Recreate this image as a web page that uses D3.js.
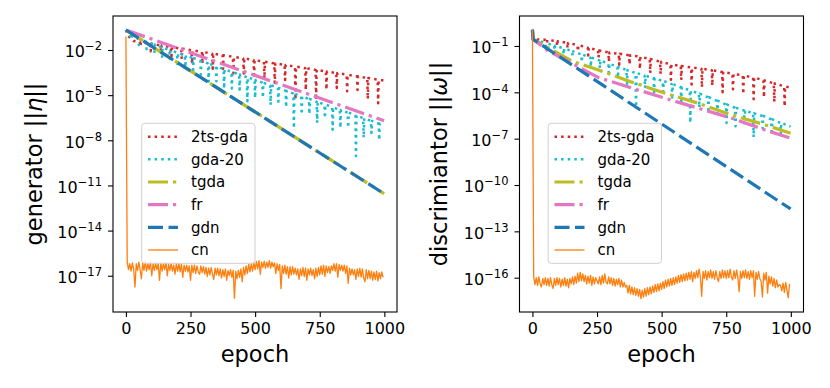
<!DOCTYPE html>
<html><head><meta charset="utf-8">
<script src="https://cdn.jsdelivr.net/npm/d3@7"></script>
<style>body{margin:0;background:#fff} text{font-family:"DejaVu Sans",sans-serif}</style>
</head><body>
<script>
// values are log10 of the norm
var xTicks = [0, 250, 500, 750, 1000];
var labels = ["2ts-gda", "gda-20", "tgda", "fr", "gdn", "cn"];

// ---- generator panel ----
var genTsHead = [[0,-0.67],[8,-1.05],[30,-1.40]];
var genTsCycles = [ // [epoch, top, dip]
  [56,-1.48,-1.78],[96,-1.59,-2.09],[136,-1.70,-2.30],[176,-1.81,-2.61],[216,-1.91,-2.61],
  [256,-2.02,-2.92],[296,-2.13,-2.93],[336,-2.24,-3.24],[376,-2.35,-3.25],[416,-2.45,-3.55],
  [456,-2.56,-3.56],[496,-2.67,-3.87],[536,-2.78,-3.88],[576,-2.89,-4.19],[616,-2.99,-3.99],
  [656,-3.10,-5.30],[696,-3.21,-4.66],[736,-3.32,-5.32],[776,-3.43,-4.63],[816,-3.53,-4.53],
  [856,-3.64,-4.74],[896,-3.75,-4.65],[936,-3.86,-5.26],[976,-3.97,-5.53]];
var genTsTail = [[999,-4.03]];

var genGdaHead = [[0,-0.67],[6,-0.90]];
var genGdaCycles = [
  [20,-1.09,-1.29],[50,-1.27,-1.67],[80,-1.45,-1.95],[110,-1.63,-2.23],[140,-1.82,-2.52],
  [170,-2.00,-2.60],[200,-2.18,-3.08],[230,-2.36,-3.16],[260,-2.54,-3.54],[290,-2.72,-3.62],
  [320,-2.90,-4.10],[350,-3.08,-4.08],[380,-3.27,-4.57],[410,-3.45,-4.55],[440,-3.63,-4.63],
  [470,-3.81,-5.41],[500,-3.99,-5.19],[530,-4.17,-5.17],[560,-4.35,-5.65],[590,-4.53,-5.43],
  [620,-4.71,-5.81],[650,-4.90,-7.20],[680,-5.08,-6.28],[710,-5.26,-6.26],[740,-5.44,-6.84],
  [770,-5.62,-6.52],[800,-5.80,-7.30],[830,-5.98,-7.18],[860,-6.16,-7.16],[890,-6.35,-9.05],
  [920,-6.53,-7.83],[950,-6.71,-7.51],[980,-6.89,-7.99]];
var genGdaTail = [[999,-6.92]];

var genTgda = [[0,-0.67],[999,-11.55]];
var genFr = [[0,-0.67],[999,-6.70]];
var genGdn = [[0,-0.67],[999,-11.55]];

// cn, one value every 5 epochs
var genCn = [
  -1.11,-16.1,-16.6,-16.2,-16.7,-16.15,-16.55,-17.75,-16.2,-16.65,
  -16.1,-16.6,-17.2,-16.15,-16.65,-16.05,-16.7,-16.2,-16.6,-16.1,
  -17.0,-16.2,-16.65,-16.15,-16.6,-16.2,-17.3,-16.15,-16.7,-16.2,
  -16.6,-16.1,-17.0,-16.25,-16.65,-16.2,-16.7,-16.3,-16.9,-16.2,
  -16.7,-16.2,-16.75,-16.25,-17.1,-16.3,-16.7,-16.3,-16.75,-16.35,
  -17.3,-16.3,-16.8,-16.3,-16.85,-16.35,-16.75,-16.9,-16.35,-16.8,
  -16.4,-16.9,-16.45,-17.05,-16.5,-16.95,-16.45,-16.9,-17.25,-16.5,
  -16.95,-16.5,-17.0,-16.55,-17.15,-16.6,-17.05,-16.55,-17.3,-16.65,
  -17.0,-16.6,-17.1,-16.65,-18.5,-16.7,-17.2,-16.65,-17.1,-16.55,
  -17.4,-16.45,-16.95,-16.35,-16.85,-16.25,-16.75,-16.2,-16.7,-16.15,
  -16.6,-16.05,-16.55,-16.0,-16.9,-16.1,-16.45,-16.05,-16.5,-16.1,
  -16.45,-16.0,-16.5,-16.1,-16.4,-16.15,-16.85,-16.2,-16.65,-16.25,
  -17.86,-16.35,-16.85,-16.3,-16.9,-16.4,-17.15,-16.4,-16.95,-16.4,
  -16.9,-16.5,-16.95,-16.55,-17.25,-16.55,-17.0,-16.45,-17.05,-16.5,
  -17.3,-16.55,-16.95,-16.5,-17.0,-16.6,-17.2,-16.5,-17.05,-16.45,
  -16.95,-16.35,-16.9,-16.3,-17.05,-16.35,-16.8,-16.4,-16.85,-16.35,
  -16.65,-16.2,-16.7,-16.2,-17.1,-16.25,-16.65,-16.3,-16.7,-16.3,
  -16.85,-16.35,-17.5,-16.5,-16.95,-16.55,-16.95,-16.6,-17.25,-16.55,
  -17.05,-16.5,-17.1,-16.55,-17.15,-17.4,-16.6,-17.2,-16.65,-17.2,
  -16.7,-17.3,-16.75,-17.25,-16.7,-17.35,-16.8,-17.2,-16.75,-17.1];

// ---- discriminator panel ----
var discTsHead = [[0,0.05],[3,-0.57],[20,-0.58]];
var discTsCycles = [
  [56,-0.60,-0.80],[96,-0.69,-0.99],[136,-0.80,-1.15],[176,-0.94,-1.34],[216,-1.11,-1.61],
  [256,-1.29,-1.74],[296,-1.42,-2.02],[336,-1.51,-2.21],[376,-1.60,-2.20],[416,-1.69,-2.49],
  [456,-1.85,-2.75],[496,-2.02,-2.82],[536,-2.19,-3.19],[576,-2.30,-3.20],[616,-2.39,-3.49],
  [656,-2.48,-3.68],[696,-2.57,-3.57],[736,-2.69,-3.99],[776,-2.80,-3.80],[816,-2.91,-4.11],
  [856,-3.04,-4.44],[896,-3.23,-4.33],[936,-3.42,-4.62],[976,-3.61,-4.91]];
var discTsTail = [[999,-3.72]];

var discGdaHead = [[0,0.05],[3,-0.57]];
var discGdaCycles = [
  [16,-0.63,-0.73],[51,-0.81,-1.01],[86,-0.98,-1.28],[121,-1.15,-1.55],[156,-1.35,-1.65],
  [191,-1.55,-2.05],[226,-1.75,-2.35],[261,-1.94,-2.44],[296,-2.15,-2.95],[331,-2.35,-3.05],
  [366,-2.56,-3.56],[401,-2.75,-4.95],[436,-2.92,-3.72],[471,-3.09,-3.99],[506,-3.27,-3.97],
  [541,-3.47,-4.47],[576,-3.67,-4.77],[611,-3.88,-5.98],[646,-4.09,-4.99],[681,-4.32,-5.32],
  [716,-4.55,-5.35],[751,-4.79,-5.99],[786,-5.00,-6.20],[821,-5.18,-6.08],[856,-5.36,-6.91],
  [891,-5.53,-6.33],[926,-5.75,-6.75],[961,-5.98,-6.68]];
var discGdaTail = [[999,-6.22]];

var discTgda = [[0,0.05],[3,-0.57],[158,-2.02],[256,-2.55],[380,-3.31],[514,-4.06],[642,-4.71],[772,-5.47],[901,-6.11],[999,-6.65]];
var discFr = [[0,0.05],[3,-0.57],[60,-1.30],[256,-3.05],[514,-4.39],[642,-5.03],[772,-5.68],[901,-6.44],[999,-6.97]];
var discGdn = [[0,0.05],[3,-0.57],[999,-11.55]];

var discCn = [
  0.05,-15.95,-16.45,-16.0,-16.5,-15.95,-16.4,-16.6,-16.05,-16.45,
  -16.0,-16.5,-16.05,-16.55,-16.0,-16.45,-16.7,-16.05,-16.5,-16.0,
  -16.45,-16.05,-16.6,-16.1,-16.5,-16.0,-16.55,-16.1,-16.65,-16.05,
  -16.4,-15.95,-16.45,-15.9,-16.35,-15.7,-16.25,-15.65,-16.2,-15.75,
  -16.25,-15.85,-16.4,-15.9,-16.35,-15.85,-16.5,-15.95,-16.4,-16.0,
  -16.2,-16.4,-15.95,-16.45,-15.85,-16.35,-15.75,-16.3,-16.4,-15.95,
  -16.4,-16.0,-16.5,-16.05,-16.55,-16.1,-16.45,-16.05,-16.6,-16.15,
  -16.6,-16.3,-16.6,-16.5,-17.0,-16.5,-17.05,-16.6,-17.1,-16.65,
  -17.15,-16.7,-17.2,-16.75,-17.35,-16.8,-17.25,-16.7,-17.2,-16.65,
  -17.1,-16.6,-17.05,-16.55,-16.95,-16.45,-16.9,-16.4,-16.85,-16.35,
  -16.75,-16.25,-16.7,-16.15,-16.6,-16.1,-16.55,-16.05,-16.5,-16.0,
  -16.45,-15.95,-16.35,-15.85,-16.3,-15.8,-16.25,-15.75,-16.2,-15.7,
  -16.15,-15.65,-16.1,-15.6,-16.25,-15.65,-16.05,-15.55,-16.0,-15.45,
  -15.95,-17.2,-15.6,-16.05,-15.55,-16.15,-15.6,-16.0,-15.5,-16.05,
  -15.6,-16.1,-15.55,-16.0,-16.25,-15.6,-16.05,-15.5,-16.0,-15.55,
  -16.05,-15.55,-16.0,-15.45,-15.95,-16.15,-15.55,-16.05,-15.5,-16.0,
  -16.9,-15.6,-16.05,-15.55,-16.0,-15.5,-16.05,-15.6,-16.1,-15.55,
  -16.0,-15.55,-17.2,-15.65,-16.1,-15.6,-16.05,-16.25,-17.25,-15.7,
  -16.15,-15.65,-17.0,-15.9,-16.4,-15.95,-16.55,-16.05,-16.65,-16.15,
  -16.6,-16.45,-16.5,-16.85,-16.35,-16.95,-16.3,-16.8,-17.3,-16.4];

// expand [epoch, top, dip] cycles into a polyline
function saw(head, cycles, tail) {
  var pts = head.slice();
  cycles.forEach(c => pts.push([c[0] - 2, c[1]], [c[0], c[2]], [c[0] + 2, c[1]]));
  return pts.concat(tail);
}
function every5(vals) {
  return vals.map((v, i) => [i * 5, v]);
}

var styles = [
  {color: "#d62728", width: 2.5, dash: "2.5,4.1"},
  {color: "#17becf", width: 2.5, dash: "2.5,4.1"},
  {color: "#bcbd22", width: 3.2, dash: "20,5,3.2,5"},
  {color: "#e377c2", width: 3.2, dash: "20,5,3.2,5"},
  {color: "#1f77b4", width: 3.2, dash: "15,5.5"},
  {color: "#ff7f0e", width: 1.3, dash: null}
];

var panels = [
  {x0: 113, x1: 397, yExp: [-19.41, 0.26], yTicks: [-17, -14, -11, -8, -5, -2],
   name: "generator ", sym: "η", labelX: 42,
   series: [saw(genTsHead, genTsCycles, genTsTail), saw(genGdaHead, genGdaCycles, genGdaTail),
            genTgda, genFr, genGdn, every5(genCn)]},
  {x0: 519.5, x1: 803.5, yExp: [-18.22, 0.94], yTicks: [-16, -13, -10, -7, -4, -1],
   name: "discrimiantor ", sym: "ω", labelX: 447,
   series: [saw(discTsHead, discTsCycles, discTsTail), saw(discGdaHead, discGdaCycles, discGdaTail),
            discTgda, discFr, discGdn, every5(discCn)]}
];

var W = 830, H = 388, plotTop = 16, plotBottom = 312;
var svg = d3.select("body").append("svg").attr("width", W).attr("height", H);

panels.forEach((p, pi) => {
  var x = d3.scaleLinear().domain([-49.95, 1048.95]).range([p.x0, p.x1]);
  var y = d3.scaleLog().domain([10 ** p.yExp[0], 10 ** p.yExp[1]]).range([plotBottom, plotTop]);

  svg.append("clipPath").attr("id", "clip" + pi)
    .append("rect").attr("x", p.x0).attr("y", plotTop).attr("width", p.x1 - p.x0).attr("height", plotBottom - plotTop);

  var line = d3.line().x(d => x(d[0])).y(d => y(10 ** d[1]));

  var g = svg.append("g").attr("clip-path", `url(#clip${pi})`);
  p.series.forEach((s, i) => {
    g.append("path")
      .datum(s)
      .attr("fill", "none")
      .attr("stroke", styles[i].color)
      .attr("stroke-width", styles[i].width)
      .attr("stroke-dasharray", styles[i].dash)
      .attr("stroke-linejoin", "round")
      .attr("d", line);
  });

  // x axis
  var gx = svg.append("g")
    .attr("transform", `translate(0,${plotBottom})`)
    .call(d3.axisBottom(x).tickValues(xTicks).tickFormat(d3.format("d")).tickSize(5).tickPadding(6));
  gx.select(".domain").remove();
  gx.selectAll(".tick line").attr("stroke", "#000").attr("stroke-width", 1.1);
  gx.selectAll(".tick text").attr("font-size", 16).attr("font-family", "DejaVu Sans").attr("fill", "#000");

  // y axis with 10^n labels
  var gy = svg.append("g")
    .attr("transform", `translate(${p.x0},0)`)
    .call(d3.axisLeft(y).tickValues(p.yTicks.map(v => 10 ** v)).tickSize(5).tickPadding(6).tickFormat(""));
  gy.select(".domain").remove();
  gy.selectAll(".tick line").attr("stroke", "#000").attr("stroke-width", 1.1);
  gy.selectAll(".tick text").each(function(d) {
    var t = d3.select(this)
      .attr("font-size", 16).attr("font-family", "DejaVu Sans").attr("fill", "#000")
      .attr("dy", "0.42em");
    var e = Math.round(Math.log10(d));
    t.append("tspan").text("10");
    t.append("tspan").attr("dy", -6.9).attr("font-size", 11.5).text("\u2212" + Math.abs(e));
  });

  // frame
  svg.append("rect")
    .attr("x", p.x0).attr("y", plotTop).attr("width", p.x1 - p.x0).attr("height", plotBottom - plotTop)
    .attr("fill", "none").attr("stroke", "#000").attr("stroke-width", 1.1);

  // axis labels
  svg.append("text")
    .attr("x", (p.x0 + p.x1) / 2).attr("y", 362)
    .attr("text-anchor", "middle").attr("font-size", 22.5)
    .text("epoch");
  var yl = svg.append("text")
    .attr("transform", `translate(${p.labelX},${(plotTop + plotBottom) / 2}) rotate(-90)`)
    .attr("text-anchor", "middle").attr("font-size", 22.5);
  yl.append("tspan").text(p.name + "||");
  yl.append("tspan").attr("font-style", "italic").text(p.sym);
  yl.append("tspan").text("||");

  // legend
  var lx = p.x0 + 28.7, ly = 123.3;
  var lg = svg.append("g");
  lg.append("rect")
    .attr("x", lx).attr("y", ly).attr("width", 113.3).attr("height", 140)
    .attr("rx", 3).attr("fill", "#fff").attr("fill-opacity", 0.8)
    .attr("stroke", "#d0d0d0").attr("stroke-width", 1);
  labels.forEach((lab, i) => {
    var cy = ly + 13.4 + i * 22.66;
    lg.append("line")
      .attr("x1", lx + 6.3).attr("x2", lx + 36.3).attr("y1", cy).attr("y2", cy)
      .attr("stroke", styles[i].color).attr("stroke-width", styles[i].width)
      .attr("stroke-dasharray", styles[i].dash);
    lg.append("text")
      .attr("x", lx + 49.3).attr("y", cy + 5.2)
      .attr("font-size", 15)
      .text(lab);
  });
});
</script>
</body></html>
